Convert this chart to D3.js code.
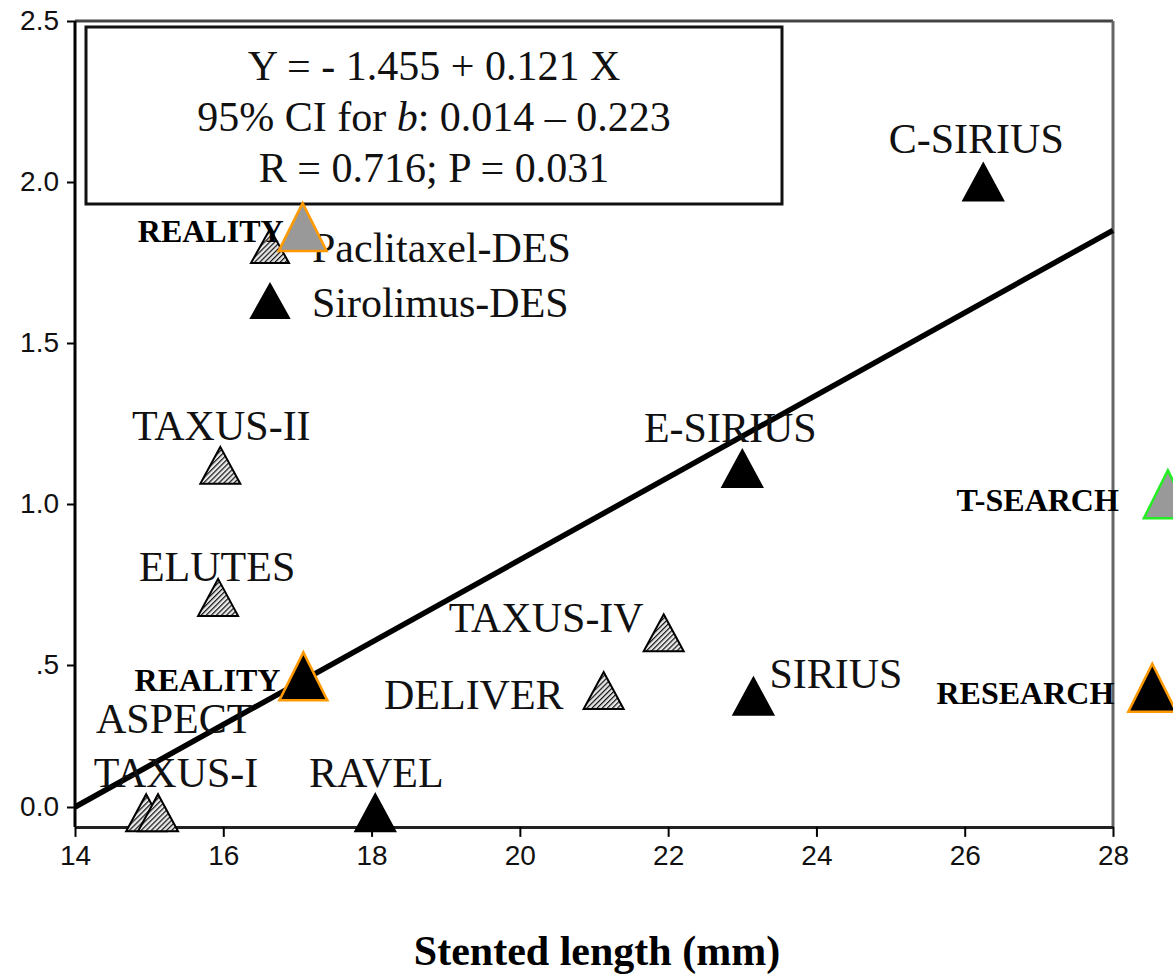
<!DOCTYPE html>
<html><head><meta charset="utf-8">
<script src="https://cdn.jsdelivr.net/npm/d3@7"></script>
<style>
html,body{margin:0;padding:0;background:#fff;}
svg{display:block;overflow:visible;}
</style></head>
<body>
<svg id="chart" width="1173" height="977"></svg>
<script>
// ---------- data ----------
const trialNames   = ["ASPECT","TAXUS-I","TAXUS-II","ELUTES","TAXUS-IV","DELIVER","RAVEL","E-SIRIUS","SIRIUS","C-SIRIUS"];
const stentLength  = [14.96, 15.12, 15.96, 15.93, 21.94, 21.13, 18.05, 23.0, 23.15, 26.25];
const outcomeValue = [-0.02, -0.02, 1.12, 0.71, 0.60, 0.41, -0.02, 1.11, 0.39, 2.0];
const trialDrug    = ["Paclitaxel","Paclitaxel","Paclitaxel","Paclitaxel","Paclitaxel","Paclitaxel","Sirolimus","Sirolimus","Sirolimus","Sirolimus"];

const addedNames   = ["REALITY","REALITY","T-SEARCH","RESEARCH"];
const addedLength  = [17.07, 17.08, 28.74, 28.53];
const addedOutcome = [1.86, 0.46, 1.03, 0.42];
const addedDrug    = ["Paclitaxel","Sirolimus","Paclitaxel","Sirolimus"];

const regX = [14, 28];
const regY = [0.0, 1.85];

const xTicks = [14,16,18,20,22,24,26,28];
const yTicks = [0, 0.5, 1.0, 1.5, 2.0, 2.5];
const yTickLabels = ["0.0", ".5", "1.0", "1.5", "2.0", "2.5"];

const legendLabels = ["Paclitaxel-DES", "Sirolimus-DES"];
const eqLines = ["Y = - 1.455 + 0.121 X", "95% CI for |b|: 0.014 – 0.223", "R = 0.716; P = 0.031"];
const xTitle = "Stented length (mm)";

// ---------- layout ----------
const labelOffsets = { // dx, dy, anchor (pixels relative to marker)
  "ASPECT":[28,-80,"middle"], "TAXUS-I":[18,-26,"middle"], "TAXUS-II":[1,-25,"middle"],
  "ELUTES":[-1,-16,"middle"], "TAXUS-IV":[-20,-1,"end"], "DELIVER":[-40,18,"end"],
  "RAVEL":[1,-26,"middle"], "E-SIRIUS":[-12,-27,"middle"], "SIRIUS":[16,-8,"start"],
  "C-SIRIUS":[-7,-29,"middle"]
};
const addedOffsets = [[-19,15],[-23,15],[-49,17],[-38,16]];
const addedStroke = ["#ff9900","#ff9900","#22ee22","#ff9900"];

const svg = d3.select("#chart");
const x = d3.scaleLinear().domain([14, 28]).range([75, 1113]);
const y = d3.scaleLinear().domain([0, 0.5, 2.5]).range([807, 665, 21]);
const yBottom = -0.07;

const serif = "'Liberation Serif','Times New Roman',serif";
const sans = "'Liberation Sans',Arial,sans-serif";

// hatch pattern
const defs = svg.append("defs");
const pat = defs.append("pattern").attr("id","hatch").attr("patternUnits","userSpaceOnUse")
  .attr("width",3.6).attr("height",3.6).attr("patternTransform","rotate(45)");
pat.append("rect").attr("width",3.6).attr("height",3.6).attr("fill","#e8e8e8");
pat.append("line").attr("x1",0).attr("y1",0).attr("x2",0).attr("y2",3.6).attr("stroke","#111").attr("stroke-width",2.4);

function tri(w, h){ return `M0,${-h/2}L${w/2},${h/2}L${-w/2},${h/2}Z`; }

// frame
const frame = svg.append("g");
frame.append("line").attr("x1",x(14)).attr("x2",x(28)).attr("y1",y(2.5)).attr("y2",y(2.5)).attr("stroke","#444").attr("stroke-width",3);
frame.append("line").attr("x1",x(28)).attr("x2",x(28)).attr("y1",y(2.5)).attr("y2",y(yBottom)).attr("stroke","#666").attr("stroke-width",3);

// axes
const yAxis = d3.axisLeft(y).tickValues(yTicks).tickFormat((d,i)=>yTickLabels[i]).tickSize(8).tickPadding(8).tickSizeOuter(0);
const gy = svg.append("g").attr("transform",`translate(${x(14)},0)`).call(yAxis);
gy.select(".domain").remove();
gy.append("line").attr("x1",0).attr("x2",0).attr("y1",y(2.5)).attr("y2",y(yBottom)).attr("stroke","#000").attr("stroke-width",3);
gy.selectAll(".tick line").attr("stroke","#000").attr("stroke-width",2);
gy.selectAll(".tick text").attr("font-family",sans).attr("font-size",28).attr("fill","#111");

const xAxis = d3.axisBottom(x).tickValues(xTicks).tickFormat(d3.format("d")).tickSize(10).tickPadding(8).tickSizeOuter(0);
const gx = svg.append("g").attr("transform",`translate(0,${y(yBottom)})`).call(xAxis);
gx.select(".domain").attr("stroke","#222").attr("stroke-width",3);
gx.selectAll(".tick line").attr("stroke","#000").attr("stroke-width",2);
gx.selectAll(".tick text").attr("font-family",sans).attr("font-size",28).attr("fill","#111");

svg.append("text").attr("x",(x(14)+x(28))/2 + 3).attr("y",965).attr("text-anchor","middle")
  .attr("font-family",serif).attr("font-weight","bold").attr("font-size",42).attr("fill","#000").text(xTitle);

// equation box
const box = svg.append("g");
box.append("rect").attr("x",86).attr("y",27).attr("width",696).attr("height",177)
  .attr("fill","#fff").attr("stroke","#111").attr("stroke-width",3);
eqLines.forEach((ln,i)=>{
  const t = box.append("text").attr("x",434).attr("y",80+i*51).attr("text-anchor","middle")
    .attr("font-family",serif).attr("font-size",42).attr("fill","#111");
  ln.split("|").forEach((part,j)=>{
    t.append("tspan").attr("font-style", j===1 ? "italic" : "normal").text(part);
  });
});

// regression line
svg.append("line").attr("x1",x(regX[0])).attr("y1",y(regY[0])).attr("x2",x(regX[1])).attr("y2",y(regY[1]))
  .attr("stroke","#000").attr("stroke-width",5.5);

// legend
const leg = svg.append("g");
legendLabels.forEach((lab,i)=>{
  const cy = 246 + i*55;
  leg.append("path").attr("d",tri(38,34)).attr("transform",`translate(270,${cy})`)
    .attr("fill", i===0 ? "url(#hatch)" : "#000").attr("stroke","#000").attr("stroke-width",2);
  leg.append("text").attr("x",312).attr("y",cy+16).attr("font-family",serif).attr("font-size",42).attr("fill","#111").text(lab);
});

// trial points
const pts = svg.append("g");
trialNames.forEach((name,i)=>{
  const px = x(stentLength[i]), py = y(outcomeValue[i]);
  pts.append("path").attr("d",tri(40,37)).attr("transform",`translate(${px},${py})`)
    .attr("fill", trialDrug[i]==="Paclitaxel" ? "url(#hatch)" : "#000")
    .attr("stroke","#000").attr("stroke-width",2);
  const o = labelOffsets[name];
  pts.append("text").attr("x",px+o[0]).attr("y",py+o[1]).attr("text-anchor",o[2])
    .attr("font-family",serif).attr("font-size",42).attr("fill","#111").text(name);
});

// added trials
addedNames.forEach((name,i)=>{
  const px = x(addedLength[i]), py = y(addedOutcome[i]);
  svg.append("text").attr("x",px+addedOffsets[i][0]).attr("y",py+addedOffsets[i][1]).attr("text-anchor","end")
    .attr("font-family",serif).attr("font-weight","bold").attr("font-size",32).attr("fill","#000").text(name);
  svg.append("path").attr("d",tri(48,48)).attr("transform",`translate(${px},${py})`)
    .attr("fill", addedDrug[i]==="Paclitaxel" ? "#999999" : "#000")
    .attr("stroke",addedStroke[i]).attr("stroke-width",2.5);
});
</script>
</body></html>
